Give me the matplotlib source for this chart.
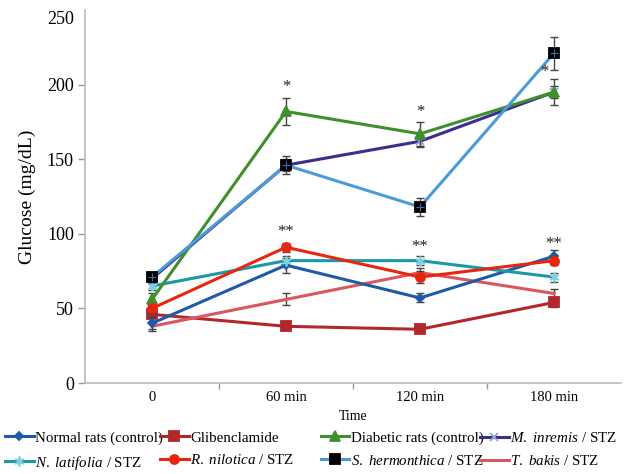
import matplotlib
matplotlib.use("Agg")
import matplotlib.pyplot as plt
import matplotlib.transforms as mtransforms
import numpy as np

plt.rcParams['font.family'] = ['Liberation Serif', 'DejaVu Serif']
plt.rcParams['mathtext.fontset'] = 'custom'
plt.rcParams['mathtext.it'] = 'Liberation Serif:italic'
plt.rcParams['mathtext.rm'] = 'Liberation Serif'

time_labels = ["0", "60 min", "120 min", "180 min"]

normal = [40, 79, 57, 85]
normal_err = [4, 5, 3, 4]
glib = [46, 38, 36, 54]
glib_err = [2, 2, 2, 3]
diabetic = [56, 182, 167, 195]
diabetic_err = [4, 9, 8, 9]
inremis = [70, 146, 162, 195]
inremis_err = [3, 4, 4, 4]
latifolia = [65, 82, 82, 71]
latifolia_err = [3, 3, 3, 3]
nilotica = [50, 91, 71, 82]
nilotica_err = [3, 3, 4, 3]
hermonthica = [71, 146, 118, 221]
hermonthica_err = [3, 6, 6, 11]
bakis = [38, 56, 74, 60]
bakis_err = [3, 4, 3, 3]

series = [
    ("Normal rats (control)", normal, normal_err, dict(color="#1f5aa8", marker="D", ms=4, mfc="#1f5aa8", mec="#1f5aa8")),
    ("Glibenclamide", glib, glib_err, dict(color="#b0282c", marker="s", ms=6.5, mfc="#b0282c", mec="#b0282c")),
    ("Diabetic rats (control)", diabetic, diabetic_err, dict(color="#3f8f2c", marker="^", ms=6.5, mfc="#3f8f2c", mec="#3f8f2c")),
    ("$\\it{M.}$ $\\it{inremis}$ / STZ", inremis, inremis_err, dict(color="#3a2e8e", marker="x", ms=6, mfc="none", mec="#8fa8d8")),
    ("$\\it{N.}$ $\\it{latifolia}$ / STZ", latifolia, latifolia_err, dict(color="#1b98a6", marker=(6, 2, 0), ms=7, mfc="#7fd0e0", mec="#7fd0e0")),
    ("$\\it{R.}$ $\\it{nilotica}$ / STZ", nilotica, nilotica_err, dict(color="#e8260f", marker="o", ms=6.5, mfc="#e8260f", mec="#e8260f")),
    ("$\\it{S.}$ $\\it{hermonthica}$ / STZ", hermonthica, hermonthica_err, dict(color="#4b9bd8", marker="s", ms=6.5, mfc="black", mec="black")),
    ("$\\it{T.}$ $\\it{bakis}$ / STZ", bakis, bakis_err, dict(color="#d9575f", marker="None", ms=6, mfc="#d9575f", mec="#d9575f")),
]

fig = plt.figure(figsize=(6.24, 4.74), dpi=100)
ax = fig.add_axes([85/624, 1-383/474, 536/624, (383-10)/474])

x = np.arange(len(time_labels))
zorders = [3, 2, 4, 3, 3, 4, 5, 2]
handles = []
for (label, y, err, st), z in zip(series, zorders):
    ax.errorbar(x, y, yerr=err, fmt="none", ecolor="#444444", elinewidth=1, capsize=3, capthick=1, zorder=z+0.5)
    h, = ax.plot(x, y, color=st["color"], lw=2.2, marker=st["marker"], ms=st["ms"],
                 mfc=st["mfc"], mec=st["mec"], mew=1.3, zorder=z+1, label=label)
    handles.append(h)
# S. hermonthica blue cross inside squares
ax.plot(x, hermonthica, ls="none", marker="+", ms=6, mec="#2f6fb8", mew=0.8, zorder=7)

# significance marks
stars = [(1, 193, "*"), (2, 176, "*"), (2.93, 203, "*"),
         (1, 96, "**"), (2, 86, "**"), (3, 88, "**")]
for xi, yi, s in stars:
    ax.text(xi, yi, s, ha="center", va="bottom", fontsize=12, color="#222222", zorder=10)

ax.set_xlim(-0.5, 3.5)
ax.set_ylim(0, 250)
ax.set_yticks([0, 50, 100, 150, 200, 250])
ax.tick_params(axis="y", labelsize=13, color="#999999", length=5, width=1, pad=3)
ax.set_xticks(x)
ax.set_xticklabels(time_labels, fontsize=10.5)
ax.tick_params(axis="x", length=0, pad=6)
ax.set_xticks([0.5, 1.5, 2.5], minor=True)
ax.tick_params(axis="x", which="minor", length=4, color="#999999", width=1)
for sp in ["top", "right"]:
    ax.spines[sp].set_visible(False)
for sp in ["left", "bottom"]:
    ax.spines[sp].set_color("#bbbbbb")
    ax.spines[sp].set_linewidth(1.2)

# shift top label down
for lab in ax.get_yticklabels():
    if lab.get_text() == "250":
        lab.set_transform(lab.get_transform() + mtransforms.ScaledTranslation(0, -8/100, fig.dpi_scale_trans))
ax.yaxis.get_major_ticks()[-1].tick1line.set_visible(False)

ax.set_ylabel("Glucose (mg/dL)", fontsize=14, labelpad=8)
ax.set_xlabel("Time", fontsize=10, labelpad=4)

# legend in four columns of two entries
col_x = [5/624, 160/624, 321/624, 480/624]
order = [[0, 4], [1, 5], [2, 6], [3, 7]]
for c, idx in enumerate(order):
    fig.legend([handles[i] for i in idx], [series[i][0] for i in idx],
               loc="upper left", bbox_to_anchor=(col_x[c], 1-431/474),
               frameon=False, fontsize=10.8, handlelength=1.9, handletextpad=0.1,
               labelspacing=0.6, borderaxespad=0, borderpad=0)

fig.savefig("out.png", dpi=100)
